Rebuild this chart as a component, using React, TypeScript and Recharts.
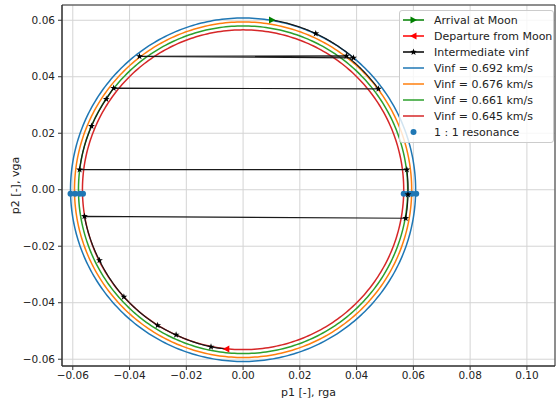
import {
  ScatterChart,
  Scatter,
  XAxis,
  YAxis,
  CartesianGrid,
  ReferenceArea,
} from "recharts";

// constant-vinf contours (radius in p1/p2 units)
const vinfLabels = ["0.692", "0.676", "0.661", "0.645"];
const vinfRadii = [0.0608, 0.0594, 0.058, 0.0566];

// 1 : 1 resonance points
const resonanceX = [-0.0608, -0.0592, -0.0576, -0.0564, 0.0566, 0.0582, 0.0595, 0.061];
const resonanceY = [-0.0014, -0.0014, -0.0014, -0.0014, -0.0014, -0.0014, -0.0014, -0.0014];

// trajectory nodes, in order, and how each one is reached
const trajX = [0.0102, 0.0256, 0.0389, -0.0365, 0.0364, 0.0477, -0.0456, -0.0482, -0.0534, -0.0576, 0.0577, 0.0581, 0.0573, -0.0559, -0.0506, -0.042, -0.0301, -0.0236, -0.0113, -0.0059];
const trajY = [0.0601, 0.0553, 0.0467, 0.0472, 0.0474, 0.0357, 0.036, 0.0321, 0.0225, 0.0071, 0.0071, -0.0017, -0.0101, -0.0094, -0.025, -0.0379, -0.048, -0.0514, -0.0556, -0.0564];
const trajLeg = ["start", "arc", "arc", "flyby", "flyby", "arc", "flyby", "arc", "arc", "arc", "flyby", "arc", "arc", "flyby", "arc", "arc", "arc", "arc", "arc", "arc"];

const xTicks = [-0.06, -0.04, -0.02, 0, 0.02, 0.04, 0.06, 0.08, 0.1];
const yTicks = [-0.06, -0.04, -0.02, 0, 0.02, 0.04, 0.06];
const xDomain = [-0.0638, 0.1099];
const yDomain = [-0.0624, 0.0654];

const circleColors = ["#1f77b4", "#ff7f0e", "#2ca02c", "#d62728"];

const fmt = (v: number) => (v < 0 ? "\u2212" : "") + Math.abs(v).toFixed(2);

function circlePoints(r: number) {
  const pts = [];
  for (let i = 0; i <= 360; i++) {
    const a = (i / 360) * 2 * Math.PI;
    pts.push({ x: r * Math.cos(a), y: r * Math.sin(a) });
  }
  return pts;
}

// follow the contour between two nodes
function arcPoints(x0: number, y0: number, x1: number, y1: number) {
  const a0 = Math.atan2(y0, x0);
  let d = Math.atan2(y1, x1) - a0;
  if (d > Math.PI) d -= 2 * Math.PI;
  if (d < -Math.PI) d += 2 * Math.PI;
  const r0 = Math.hypot(x0, y0);
  const r1 = Math.hypot(x1, y1);
  const n = Math.max(2, Math.ceil(Math.abs(d) / 0.01));
  const pts = [];
  for (let i = 1; i <= n; i++) {
    const t = i / n;
    const r = r0 + (r1 - r0) * t;
    const a = a0 + d * t;
    pts.push({ x: r * Math.cos(a), y: r * Math.sin(a) });
  }
  return pts;
}

const trajPath: { x: number; y: number }[] = [];
trajX.forEach((x, i) => {
  if (i === 0 || trajLeg[i] !== "arc") trajPath.push({ x, y: trajY[i] });
  else trajPath.push(...arcPoints(trajX[i - 1], trajY[i - 1], x, trajY[i]));
});

const nodes = trajX.map((x, i) => ({ x, y: trajY[i] }));
const intermediate = nodes.slice(1, -1);
const arrival = [nodes[0]];
const departure = [nodes[nodes.length - 1]];
const resonance = resonanceX.map((x, i) => ({ x, y: resonanceY[i] }));

const noDot = () => <g />;

function starD(cx: number, cy: number, R: number) {
  let d = "";
  for (let i = 0; i < 10; i++) {
    const rr = i % 2 === 0 ? R : R * 0.4;
    const a = -Math.PI / 2 + (i * Math.PI) / 5;
    d += (i === 0 ? "M" : "L") + (cx + rr * Math.cos(a)).toFixed(2) + "," + (cy + rr * Math.sin(a)).toFixed(2);
  }
  return d + "Z";
}

const StarDot = (p: any) => <path d={starD(p.cx, p.cy, 3.6)} fill="#000" />;
const RightTri = (p: any) => (
  <path d={`M${p.cx + 3.5},${p.cy} L${p.cx - 3},${p.cy - 3.5} L${p.cx - 3},${p.cy + 3.5} Z`} fill="#008000" />
);
const LeftTri = (p: any) => (
  <path d={`M${p.cx - 3.5},${p.cy} L${p.cx + 3},${p.cy - 3.5} L${p.cx + 3},${p.cy + 3.5} Z`} fill="#ff0000" />
);
const BlueDot = (p: any) => <circle cx={p.cx} cy={p.cy} r={3} fill="#1f77b4" />;

const XLabel = ({ viewBox }: any) => (
  <text x={viewBox.x + viewBox.width / 2} y={viewBox.y + viewBox.height - 5} textAnchor="middle" fontSize={11} fill="#222">
    p1 [-], rga
  </text>
);
const YLabel = ({ viewBox }: any) => {
  const cy = viewBox.y + viewBox.height / 2;
  return (
    <text x={19} y={cy} transform={`rotate(-90, 19, ${cy})`} textAnchor="middle" fontSize={11} fill="#222">
      p2 [-], vga
    </text>
  );
};

const legendRows = [
  { label: "Arrival at Moon", color: "#008000", marker: "right" },
  { label: "Departure from Moon", color: "#ff0000", marker: "left" },
  { label: "Intermediate vinf", color: "#000", marker: "star" },
  ...vinfLabels.map((v, i) => ({ label: `Vinf = ${v} km/s`, color: circleColors[i], marker: "none" })),
  { label: "1 : 1 resonance", color: "#1f77b4", marker: "dot" },
];

function Legend() {
  return (
    <div
      style={{
        position: "absolute",
        left: 399,
        top: 10,
        width: 155,
        height: 133,
        boxSizing: "border-box",
        border: "1px solid #cccccc",
        borderRadius: 3,
        background: "rgba(255,255,255,0.8)",
      }}
    >
      <svg width={153} height={131} style={{ position: "absolute", left: 0, top: 0 }}>
        {legendRows.map((row, i) => {
          const y = 9 + i * 16;
          return (
            <g key={row.label}>
              {row.marker !== "dot" && <line x1={3} x2={24} y1={y} y2={y} stroke={row.color} strokeWidth={1.5} />}
              {row.marker === "right" && <path d={`M${17},${y} L${10.5},${y - 3.5} L${10.5},${y + 3.5} Z`} fill={row.color} />}
              {row.marker === "left" && <path d={`M${10},${y} L${16.5},${y - 3.5} L${16.5},${y + 3.5} Z`} fill={row.color} />}
              {row.marker === "star" && <path d={starD(13.5, y, 3.6)} fill="#000" />}
              {row.marker === "dot" && <circle cx={13.5} cy={y} r={3} fill={row.color} />}
              <text x={34} y={y + 4} fontSize={11} fill="#222">
                {row.label}
              </text>
            </g>
          );
        })}
      </svg>
    </div>
  );
}

export default function App() {
  return (
    <div style={{ position: "fixed", left: 0, top: 0, width: 557, height: 401, background: "#fff", fontFamily: "DejaVu Sans" }}>
      <ScatterChart width={557} height={401} margin={{ top: 5, right: 2, bottom: 0, left: 0 }}>
        <CartesianGrid stroke="#d4d4d4" strokeWidth={1} />
        <XAxis
          type="number"
          dataKey="x"
          domain={xDomain}
          ticks={xTicks}
          allowDataOverflow
          tickFormatter={fmt}
          height={35}
          tickSize={4}
          tickMargin={2}
          stroke="#333"
          tick={{ fill: "#222", fontSize: 10.5 }}
          label={<XLabel />}
        />
        <YAxis
          type="number"
          dataKey="y"
          domain={yDomain}
          ticks={yTicks}
          allowDataOverflow
          tickFormatter={fmt}
          width={62}
          tickSize={4}
          tickMargin={3}
          stroke="#333"
          tick={{ fill: "#222", fontSize: 10.5 }}
          label={<YLabel />}
        />
        {vinfRadii.map((r, i) => (
          <Scatter
            key={vinfLabels[i]}
            data={circlePoints(r)}
            line={{ stroke: circleColors[i], strokeWidth: 1.5 }}
            shape={noDot}
            isAnimationActive={false}
          />
        ))}
        <Scatter data={trajPath} line={{ stroke: "#1a1a1a", strokeWidth: 1.2 }} shape={noDot} isAnimationActive={false} />
        <Scatter data={resonance} shape={BlueDot} isAnimationActive={false} />
        <Scatter data={intermediate} shape={StarDot} isAnimationActive={false} />
        <Scatter data={arrival} shape={RightTri} isAnimationActive={false} />
        <Scatter data={departure} shape={LeftTri} isAnimationActive={false} />
        <ReferenceArea
          x1={xDomain[0]}
          x2={xDomain[1]}
          y1={yDomain[0]}
          y2={yDomain[1]}
          fill="none"
          stroke="#333"
          strokeWidth={1}
        />
      </ScatterChart>
      <Legend />
    </div>
  );
}
